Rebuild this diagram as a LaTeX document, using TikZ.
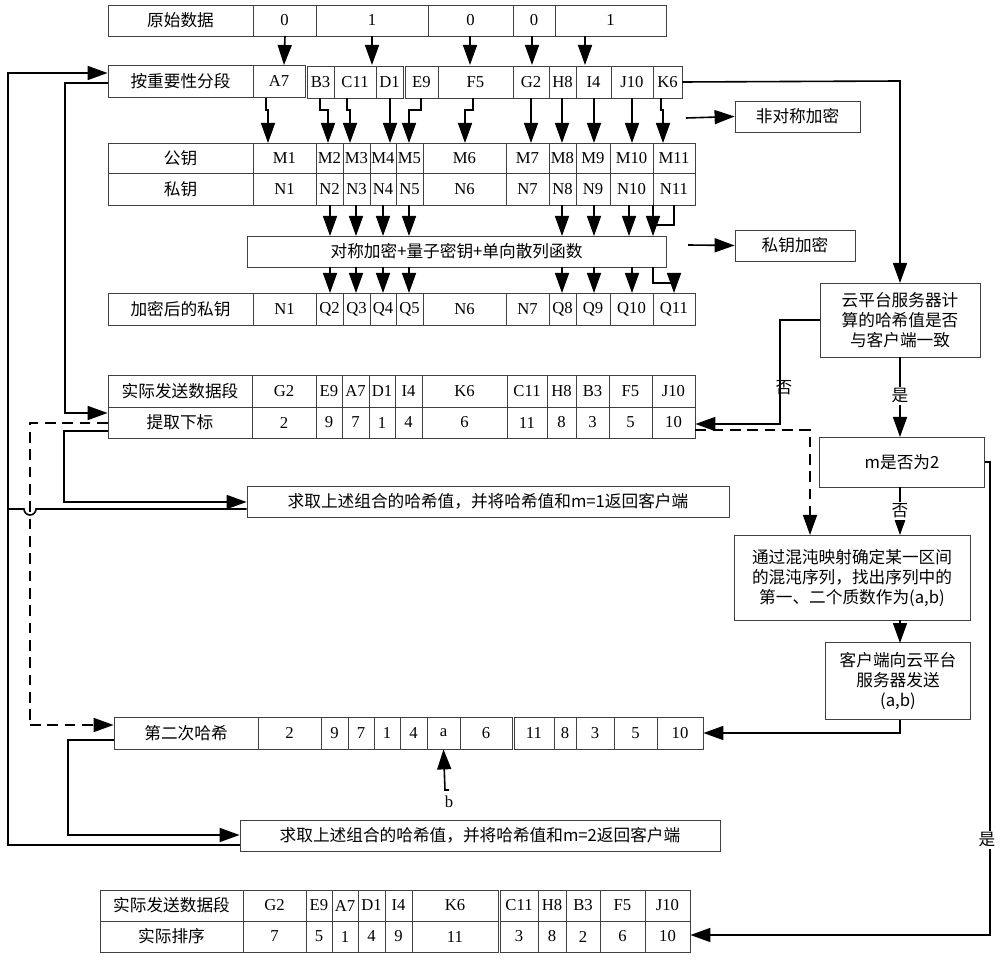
\documentclass[tikz,border=0pt]{standalone}
\usepackage{fontspec}
\setmainfont{Liberation Serif}
\newfontfamily\cjk{Noto Sans CJK SC}
\usetikzlibrary{arrows.meta}
\begin{document}
\begin{tikzpicture}[x=0.75pt,y=-0.75pt,
  cellb/.style={draw=black!75,line width=0.6pt,inner sep=0pt,font=\fontsize{12.5}{14}\selectfont},
  conn/.style={line width=1.2pt,-{Triangle[width=10.5pt,length=15pt]}},
  line/.style={line width=1.2pt},
  dashc/.style={line width=1.2pt,dashed,dash pattern=on 8pt off 5pt},
  lbl/.style={font=\cjk\fontsize{12.5}{15}\selectfont}]
\useasboundingbox (0,0) rectangle (1000,962);
\newcommand\cel[6]{\node[cellb,minimum width={(#3-#2)*0.75pt},minimum height={(#5-#4)*0.75pt}] (#1) at ({(#2+#3)/2},{(#4+#5)/2}) {#6};}
\newcommand\tcel[6]{\node[cellb,font=\cjk\fontsize{12.5}{14}\selectfont,minimum width={(#3-#2)*0.75pt},minimum height={(#5-#4)*0.75pt}] (#1) at ({(#2+#3)/2},{(#4+#5)/2}) {#6};}
% row 1
\tcel{r1l}{108}{253}{5}{36}{原始数据}
\cel{r1a}{253}{316}{5}{36}{0}
\cel{r1b}{316}{428}{5}{36}{1}
\cel{r1c}{428}{513}{5}{36}{0}
\cel{r1d}{513}{555}{5}{36}{0}
\cel{r1e}{555}{666}{5}{36}{1}
% row 2
\tcel{r2l}{108}{253}{65}{97}{按重要性分段}
\cel{A7}{253}{305}{65}{97}{A7}
\cel{B3}{307}{334}{66}{98}{B3}
\cel{C11}{334}{376}{66}{98}{C11}
\cel{D1}{376}{403}{66}{98}{D1}
\cel{E9}{405}{438}{66}{98}{E9}
\cel{F5}{438}{513}{66}{98}{F5}
\cel{G2}{513}{549}{66}{98}{G2}
\cel{H8}{549}{576}{66}{98}{H8}
\cel{I4}{576}{611}{66}{98}{I4}
\cel{J10}{611}{653}{66}{98}{J10}
\cel{K6}{653}{682}{66}{98}{K6}
% keys
\tcel{pkl}{108}{253}{143}{173}{公钥}
\tcel{skl}{108}{253}{173}{205}{私钥}
\tcel{ql}{108}{253}{293}{325}{加密后的私钥}
\foreach \n/\a/\b/\t in {1/253/316/1,2/316/343/2,3/343/370/3,4/370/396/4,5/396/423/5,6/423/506/6,7/506/549/7,8/549/576/8,9/576/610/9,10/610/653/10,11/653/695/11}{
  \cel{M\n}{\a}{\b}{143}{173}{M\t}
  \cel{N\n}{\a}{\b}{173}{205}{N\t}
}
\foreach \n/\a/\b/\t in {1/253/316/N1,2/316/343/Q2,3/343/370/Q3,4/370/396/Q4,5/396/423/Q5,6/423/506/N6,7/506/549/N7,8/549/576/Q8,9/576/610/Q9,10/610/653/Q10,11/653/695/Q11}{
  \cel{Q\n}{\a}{\b}{293}{325}{\t}
}
\tcel{sym}{247}{666}{236}{267}{对称加密+量子密钥+单向散列函数}
\tcel{asym}{735}{860}{101}{132}{非对称加密}
\tcel{skenc}{735}{855}{230}{261}{私钥加密}
\draw[conn] (686,118) -- (asym.west);
\draw[conn] (688,245) -- (skenc.west);
% row1 -> row2
\foreach \x/\s in {284/285,372/372,470/470,532/532,585/585}{
  \draw[conn] (\s,36) -- (\x,65);
}
% row2 -> keys
\foreach \s/\t in {266/268,320/328,347/350,390/390,421/409,473/465,531/531,562/562,594/594,632/632,661/663}{
  \draw[conn] (\s,98) -- (\s,110) -- (\t,110) -- (\t,143);
}
\foreach \x in {330,356,383,409,562,594,629,653}{
  \draw[conn] (\x,205) -- (\x,236);
}
\draw[line] (674,205) -- (674,225) -- (653,225);
\foreach \x in {330,356,383,409,562,594,632}{
  \draw[conn] (\x,267) -- (\x,293);
}
\draw[conn] (653,267) -- (653,283) -- (674,283) -- (674,293);
% actual send / index rows
\tcel{asl}{108}{252}{375}{407}{实际发送数据段}
\tcel{idl}{108}{252}{407}{438}{提取下标}
\foreach \n/\a/\b/\t/\v in {1/252/316/G2/2,2/316/342/E9/9,3/342/369/A7/7,4/369/395/D1/1,5/395/422/I4/4,6/422/507/K6/6,7/507/547/C11/11,8/547/576/H8/8,9/576/609/B3/3,10/609/652/F5/5,11/652/695/J10/10}{
  \cel{S\n}{\a}{\b}{375}{407}{\t}
  \cel{I\n}{\a}{\b}{407}{438}{\v}
}
\tcel{h1}{247}{729}{486}{517}{求取上述组合的哈希值，并将哈希值和m=1返回客户端}
% second hash
\tcel{shl}{114}{258}{717}{749}{第二次哈希}
\foreach \n/\a/\b/\v in {1/258/321/2,2/321/348/9,3/348/374/7,4/374/400/1,5/400/427/4,6/427/460/a,7/460/512/6,8/514/554/11,9/554/576/8,10/576/614/3,11/614/657/5,12/657/703/10}{
  \cel{H\n}{\a}{\b}{717}{749}{\v}
}
\node[font=\fontsize{12.5}{14}\selectfont] (bl) at (449,802) {b};
\draw[conn] (449,790) -- (445,790) -- (H6.south);
\tcel{h2}{240}{720}{820}{851}{求取上述组合的哈希值，并将哈希值和m=2返回客户端}
% bottom rows
\tcel{bsl}{100}{243}{890}{921}{实际发送数据段}
\tcel{bol}{100}{243}{921}{952}{实际排序}
\foreach \n/\a/\b/\t/\v in {1/243/306/G2/7,2/306/332/E9/5,3/332/358/A7/1,4/358/385/D1/4,5/385/412/I4/9,6/412/498/K6/11,7/500/538/C11/3,8/538/566/H8/8,9/566/600/B3/2,10/600/645/F5/6,11/645/690/J10/10}{
  \cel{B\n}{\a}{\b}{890}{921}{\t}
  \cel{O\n}{\a}{\b}{921}{952}{\v}
}
% right side flow
\node[cellb,lbl,align=center,text width=160*0.75pt,minimum height=74*0.75pt] (cloud) at (900,320) {云平台服务器计\\算的哈希值是否\\与客户端一致};
\node[cellb,lbl,minimum width=165*0.75pt,minimum height=50*0.75pt] (mq) at (902,462) {m是否为2};
\node[cellb,lbl,align=center,text width=236*0.75pt,minimum height=85*0.75pt] (chaos) at (852,578) {通过混沌映射确定某一区间\\的混沌序列，找出序列中的\\第一、二个质数作为(a,b)};
\node[cellb,lbl,align=center,text width=145*0.75pt,minimum height=77*0.75pt] (client) at (898,681) {客户端向云平台\\服务器发送\\(a,b)};
\draw[conn] (K6.east) -- (900,81) -- (900,283);
\draw[conn] (cloud.west |- 0,320) -- (780,320) -- (780,424) -- (I11.east |- 0,424);
\node[lbl] at (784,388) {否};
\draw[conn] (900,357) -- (900,437);
\node[lbl,fill=white,inner sep=1pt] at (900,396) {是};
\draw[conn] (900,487) -- (900,535);
\node[lbl,fill=white,inner sep=1pt] at (900,511) {否};
\draw[conn] (900,620) -- (900,643);
\draw[conn] (900,720) -- (900,733) -- (H12.east |- 0,733);
\draw[conn] (mq.east |- 0,462) -- (990,462) -- (990,935) -- (O11.east |- 0,935);
\node[lbl,fill=white,inner sep=1pt] at (987,840) {是};
% left flows
\draw[conn] (h2.west |- 0,845) -- (8,845) -- (8,73) -- (r2l.west |- 0,73);
\draw[conn] (108,83) -- (65,83) -- (65,413) -- (idl.west |- 0,413);
\draw[conn] (idl.west |- 0,431) -- (64,431) -- (64,502) -- (h1.west |- 0,502);
\draw[line] (h1.west |- 0,509) -- (36,509) arc (0:180:6) -- (8,509);
\draw[dashc] (idl.west |- 0,423) -- (30,423) -- (30,725);
\draw[conn,dashed,dash pattern=on 8pt off 5pt] (30,725) -- (shl.west |- 0,725);
\draw[dashc] (I11.east |- 0,430) -- (810,430) -- (810,520);
\draw[conn] (810,519) -- (810,535);
\draw[conn] (shl.west |- 0,740) -- (68,740) -- (68,835) -- (h2.west |- 0,835);
\end{tikzpicture}
\end{document}
